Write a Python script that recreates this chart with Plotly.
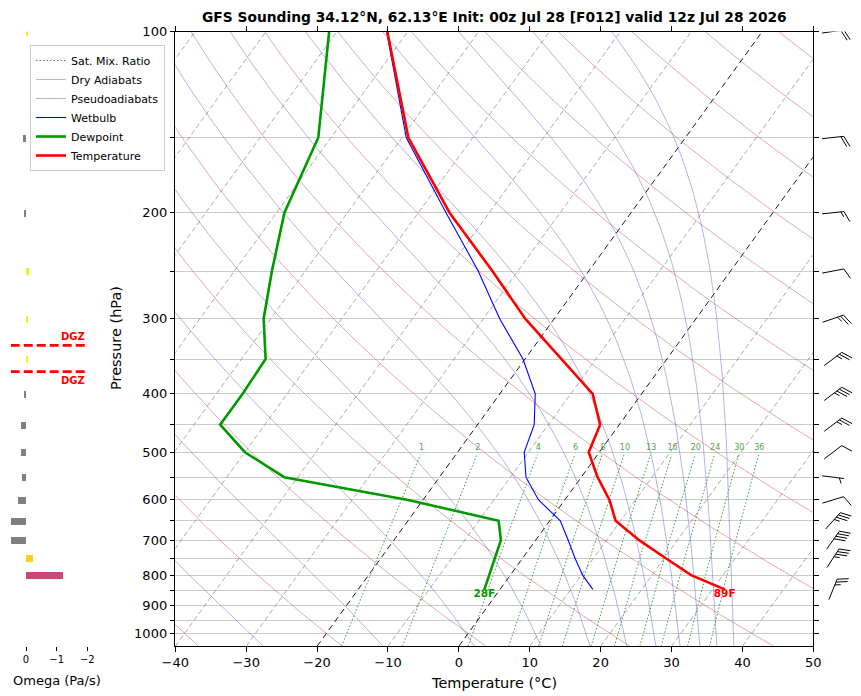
import numpy as np
import plotly.graph_objects as go
from plotly.colors import sample_colorscale

W, H = 861, 696
P_BOTTOM, P_TOP = 1050.0, 100.0
SKEW = 61.5  # deg C of slant per decade of pressure

# sounding profile (hPa, deg C)
pressure = [100, 150, 200, 250, 300, 350, 400, 450, 500, 550, 600, 650, 700, 750, 800, 845]
temperature = [-72.9, -59.1, -45.6, -33.6, -24.1, -14.9, -6.9, -2.7, -1.5, 2.3, 6.3, 9.3, 14.6, 20.2, 25.5, 31.7]
dewpoint = [-81.1, -71.8, -68.9, -64.7, -61.0, -56.6, -56.3, -56.3, -50.0, -41.9, -22.1, -7.2, -4.9, -3.9, -2.9, -2.2]
wetbulb = [-73.0, -59.4, -46.1, -35.6, -27.7, -20.3, -15.0, -12.0, -10.6, -7.8, -3.7, 1.5, 4.6, 7.4, 10.2, 13.1]

# vertical velocity (Pa/s)
omega_pressure = [100, 150, 200, 250, 300, 350, 400, 450, 500, 550, 600, 650, 700, 750, 800]
omega = [-0.05, 0.1, 0.07, -0.08, -0.06, -0.03, 0.07, 0.17, 0.17, 0.13, 0.27, 0.5, 0.5, -0.23, -1.2]

# winds (direction in degrees, speed in kt)
wind_pressure = [100, 150, 200, 250, 300, 350, 400, 450, 500, 550, 600, 650, 700, 750, 845]
wind_dir = [82, 84, 84, 79, 71, 53, 53, 53, 53, 97, 73, 42, 35, 33, 22]
wind_speed = [20, 20, 15, 10, 25, 25, 35, 25, 10, 5, 10, 35, 40, 35, 25]

# background line sets
isotherms = list(range(-100, 51, 10))
highlight_isotherms = [0, -20]
dry_thetas = list(range(-40, 221, 20))          # potential temperature, deg C
moist_starts = [-27.6, -10.7, 2.2, 11.6, 18.5, 23.7, 27.8, 31.2, 34.0, 36.4, 38.8]  # deg C at 1050 hPa
mixing_ratios = [1, 2, 4, 6, 8, 10, 13, 16, 20, 24, 30, 36]  # g/kg

title = "GFS Sounding 34.12°N, 62.13°E Init: 00z Jul 28 [F012] valid 12z Jul 28 2026"

# pixel frame of the main panel
X0, X1 = 175.3, 813.3
Y0, Y1 = 31.5, 646.2
PPD = (Y1 - Y0) / np.log10(P_BOTTOM / P_TOP)  # pixels per pressure decade
ydom = [(H - Y1) / H, (H - Y0) / H]
FONT = "DejaVu Sans"


def skew_x(t, p):
    return np.asarray(t, dtype=float) + SKEW * np.log10(P_BOTTOM / np.asarray(p, dtype=float))


def sat_vapor(tc):
    return 6.112 * np.exp(17.67 * tc / (tc + 243.5))


def moist_adiabat(t_start, p_levels):
    Rd, Cp, Lv, eps = 287.04749, 1004.666, 2.50084e6, 0.6219569

    def f(t_k, p):
        es = sat_vapor(t_k - 273.15)
        rs = eps * es / (p - es)
        return (Rd * t_k + Lv * rs) / (Cp + Lv * Lv * rs * eps / (Rd * t_k * t_k))

    out = [t_start + 273.15]
    for p0, p1 in zip(p_levels[:-1], p_levels[1:]):
        h = np.log(p1) - np.log(p0)
        pm = np.exp(np.log(p0) + h / 2)
        t = out[-1]
        k1 = f(t, p0)
        k2 = f(t + h * k1 / 2, pm)
        k3 = f(t + h * k2 / 2, pm)
        k4 = f(t + h * k3, p1)
        out.append(t + h * (k1 + 2 * k2 + 2 * k3 + k4) / 6)
    return np.array(out) - 273.15


def mixing_dewpoint(w_gkg, p):
    w = w_gkg / 1000.0
    e = w * np.asarray(p, dtype=float) / (0.622 + w)
    ln = np.log(e / 6.112)
    return 243.5 * ln / (17.67 - ln)


def joined(lines):
    xs, ys = [], []
    for x, y in lines:
        xs += list(x) + [None]
        ys += list(y) + [None]
    return xs, ys


def crossing_pressure(target):
    for i in range(len(pressure) - 1):
        t0, t1 = temperature[i], temperature[i + 1]
        if (t0 - target) * (t1 - target) <= 0 and t0 != t1:
            frac = (target - t0) / (t1 - t0)
            lp = np.log10(pressure[i]) + frac * (np.log10(pressure[i + 1]) - np.log10(pressure[i]))
            return 10 ** lp
    return None


def omega_color(w):
    if w >= 0:
        return "#808080"
    return sample_colorscale("Plasma", [max(0.0, 1 + w / 2.4)])[0]


def barb_lines(cx, p, speed, direction, L=22.0):
    """Wind barb segments in pixel offsets, returned in (x px, log10 p) coordinates."""
    th = np.deg2rad(direction)
    ux, uy = np.sin(th), -np.cos(th)
    nx, ny = -uy, ux
    y0 = np.log10(p)
    segs = []

    def seg(a, b):
        segs.append(([cx + a[0], cx + b[0]], [y0 + a[1] / PPD, y0 + b[1] / PPD]))

    seg((-0.5 * L * ux, -0.5 * L * uy), (0.5 * L * ux, 0.5 * L * uy))
    spd = int(5 * round(speed / 5))
    full, rest = divmod(spd, 10)
    pos = 0.5 * L
    for _ in range(full):
        base = (pos * ux, pos * uy)
        seg(base, (base[0] + 0.48 * L * nx + 0.22 * L * ux, base[1] + 0.48 * L * ny + 0.22 * L * uy))
        pos -= 0.14 * L
    if rest >= 5:
        if full == 0:
            pos -= 1.5 * 0.14 * L
        base = (pos * ux, pos * uy)
        seg(base, (base[0] + 0.24 * L * nx + 0.11 * L * ux, base[1] + 0.24 * L * ny + 0.11 * L * uy))
    return segs


fig = go.Figure()
p_fine = np.logspace(np.log10(P_BOTTOM), np.log10(P_TOP), 80)

# isotherms
gray_iso = [(skew_x([t, t], [P_BOTTOM, P_TOP]), [P_BOTTOM, P_TOP]) for t in isotherms if t not in highlight_isotherms]
xs, ys = joined(gray_iso)
fig.add_trace(go.Scatter(x=xs, y=ys, mode="lines", showlegend=False, hoverinfo="skip",
                         line=dict(color="rgba(120,120,120,0.7)", width=0.9, dash="5px,3px")))
black_iso = [(skew_x([t, t], [P_BOTTOM, P_TOP]), [P_BOTTOM, P_TOP]) for t in highlight_isotherms]
xs, ys = joined(black_iso)
fig.add_trace(go.Scatter(x=xs, y=ys, mode="lines", showlegend=False, hoverinfo="skip",
                         line=dict(color="black", width=0.9, dash="6px,4px")))

# saturation mixing ratio lines
p_mix = np.logspace(np.log10(P_BOTTOM), np.log10(505), 20)
xs, ys = joined([(skew_x(mixing_dewpoint(w, p_mix), p_mix), p_mix) for w in mixing_ratios])
fig.add_trace(go.Scatter(x=xs, y=ys, mode="lines", name="Sat. Mix. Ratio", hoverinfo="skip",
                         line=dict(color="#3f9a3f", width=1, dash="1.5px,2px")))

# dry adiabats
dry = []
for th in dry_thetas:
    t = (th + 273.15) * (p_fine / 1000.0) ** 0.2857 - 273.15
    dry.append((skew_x(t, p_fine), p_fine))
xs, ys = joined(dry)
fig.add_trace(go.Scatter(x=xs, y=ys, mode="lines", name="Dry Adiabats", hoverinfo="skip",
                         line=dict(color="rgba(205,95,95,0.6)", width=0.9)))

# pseudoadiabats
moist = [(skew_x(moist_adiabat(t0, p_fine), p_fine), p_fine) for t0 in moist_starts]
xs, ys = joined(moist)
fig.add_trace(go.Scatter(x=xs, y=ys, mode="lines", name="Pseudoadiabats", hoverinfo="skip",
                         line=dict(color="rgba(100,100,210,0.55)", width=0.9)))

# profiles
fig.add_trace(go.Scatter(x=skew_x(wetbulb, pressure), y=pressure, mode="lines", name="Wetbulb",
                         line=dict(color="#0000ff", width=1.1)))
fig.add_trace(go.Scatter(x=skew_x(dewpoint, pressure), y=pressure, mode="lines", name="Dewpoint",
                         line=dict(color="#009a00", width=2.6)))
fig.add_trace(go.Scatter(x=skew_x(temperature, pressure), y=pressure, mode="lines", name="Temperature",
                         line=dict(color="#ff0000", width=2.6)))

# mixing ratio labels
p_lab = [500] * len(mixing_ratios)
fig.add_trace(go.Scatter(x=[float(skew_x(mixing_dewpoint(w, 500), 500)) for w in mixing_ratios], y=p_lab,
                         mode="text", text=[str(w) for w in mixing_ratios], textposition="top center",
                         textfont=dict(color="#4f9f4f", size=8, family=FONT), showlegend=False,
                         hoverinfo="skip"))

# surface labels in F
sfc_p = pressure[-1]
for val, col in [(dewpoint[-1], "#009a00"), (temperature[-1], "#ff0000")]:
    fig.add_trace(go.Scatter(x=[float(skew_x(val, sfc_p))], y=[sfc_p], mode="text",
                             text=[f"<b>{round(val * 9 / 5 + 32)}F</b>"], textposition="bottom center",
                             textfont=dict(color=col, size=10.5, family=FONT), showlegend=False,
                             hoverinfo="skip"))

# omega panel (y in log10 p)
fig.add_trace(go.Bar(x=omega, y=np.log10(omega_pressure), orientation="h", width=7.0 / PPD,
                     marker=dict(color=[omega_color(w) for w in omega], line=dict(width=0)),
                     xaxis="x2", yaxis="y2", showlegend=False, hoverinfo="skip"))

dgz_top = crossing_pressure(-18)
dgz_bot = crossing_pressure(-12)
for pd_ in (dgz_top, dgz_bot):
    fig.add_trace(go.Scatter(x=[0.5, -2], y=[np.log10(pd_)] * 2, mode="lines", xaxis="x2", yaxis="y2",
                             line=dict(color="#ff0000", width=2.6, dash="9px,4px"), showlegend=False,
                             hoverinfo="skip"))

# wind barbs (x in pixels)
BARB_X0 = X1
segs = []
for p, d, s in zip(wind_pressure, wind_dir, wind_speed):
    segs += barb_lines(833.0 - BARB_X0, p, s, d)
xs, ys = joined(segs)
fig.add_trace(go.Scatter(x=xs, y=ys, mode="lines", xaxis="x3", yaxis="y3", showlegend=False,
                         hoverinfo="skip", line=dict(color="black", width=1)))

minus = "\u2212"
tick_font = dict(family=FONT, size=13, color="black")
ptick = list(range(100, 1001, 50))

fig.update_layout(
    template="none",
    width=W, height=H, autosize=False,
    margin=dict(l=0, r=0, t=0, b=0, pad=0),
    plot_bgcolor="white", paper_bgcolor="white",
    font=dict(family=FONT, color="black"),
    bargap=0,
    xaxis=dict(domain=[X0 / W, X1 / W], range=[-40, 50], anchor="y", automargin=False,
               tickvals=list(range(-40, 51, 10)),
               ticktext=[f"{minus}{abs(v)}" if v < 0 else str(v) for v in range(-40, 51, 10)],
               ticks="outside", ticklen=4.5, tickwidth=1, tickcolor="black", tickfont=tick_font,
               showline=True, linecolor="black", linewidth=1, mirror="ticks",
               showgrid=False, zeroline=False),
    yaxis=dict(domain=ydom, type="log", range=[np.log10(P_BOTTOM), np.log10(P_TOP)], anchor="x",
               automargin=False,
               tickvals=ptick, ticktext=[str(v) if v % 100 == 0 else "" for v in ptick],
               ticks="outside", ticklen=4.5, tickwidth=1, tickcolor="black", tickfont=tick_font,
               showline=True, linecolor="black", linewidth=1, mirror="ticks",
               showgrid=True, gridcolor="#cccccc", gridwidth=1, zeroline=False),
    xaxis2=dict(domain=[10.7 / W, 87.3 / W], range=[0.5, -2], anchor="y2", automargin=False,
                tickvals=[0, -1, -2], ticktext=["0", f"{minus}1", f"{minus}2"],
                ticks="outside", ticklen=4, tickwidth=1, tickcolor="black",
                tickfont=dict(family=FONT, size=10, color="black"),
                showline=False, showgrid=False, zeroline=False),
    yaxis2=dict(domain=ydom, range=[np.log10(P_BOTTOM), np.log10(P_TOP)], anchor="x2", visible=False,
                automargin=False),
    xaxis3=dict(domain=[BARB_X0 / W, 1.0], range=[0, W - BARB_X0], anchor="y3", visible=False,
                automargin=False),
    yaxis3=dict(domain=ydom, range=[np.log10(P_BOTTOM), np.log10(P_TOP)], anchor="x3", visible=False,
                automargin=False),
    legend=dict(x=30 / W, y=1 - 45 / H, xanchor="left", yanchor="top",
                bgcolor="rgba(255,255,255,0.85)", bordercolor="#cccccc", borderwidth=1,
                font=dict(family=FONT, size=11, color="black"), tracegroupgap=0),
)


def px_note(text, x, y, size, angle=0, color="black", xanchor="center", yanchor="middle"):
    fig.add_annotation(text=text, x=x / W, y=1 - y / H, xref="paper", yref="paper", showarrow=False,
                       xanchor=xanchor, yanchor=yanchor, textangle=angle,
                       font=dict(family=FONT, size=size, color=color))


px_note(f"<b>{title}</b>", (X0 + X1) / 2, 17, 13.8)
px_note("Temperature (°C)", (X0 + X1) / 2, 683, 14.5)
px_note("Pressure (hPa)", 116, 338, 14.5, angle=-90)
px_note("Omega (Pa/s)", 57, 680, 13)

for pd_, anchor in ((dgz_top, "bottom"), (dgz_bot, "top")):
    fig.add_annotation(text="<b>DGZ</b>", x=-2, y=np.log10(pd_), xref="x2", yref="y2", showarrow=False,
                       xanchor="right", yanchor=anchor, yshift=1 if anchor == "bottom" else -1,
                       font=dict(family=FONT, size=10, color="#ff0000"))

# the page body has a default margin; drop it so the figure sits at the window origin
fig.write_html("out.html", config={"displayModeBar": False},
               post_script="document.body.style.margin='0px';")
